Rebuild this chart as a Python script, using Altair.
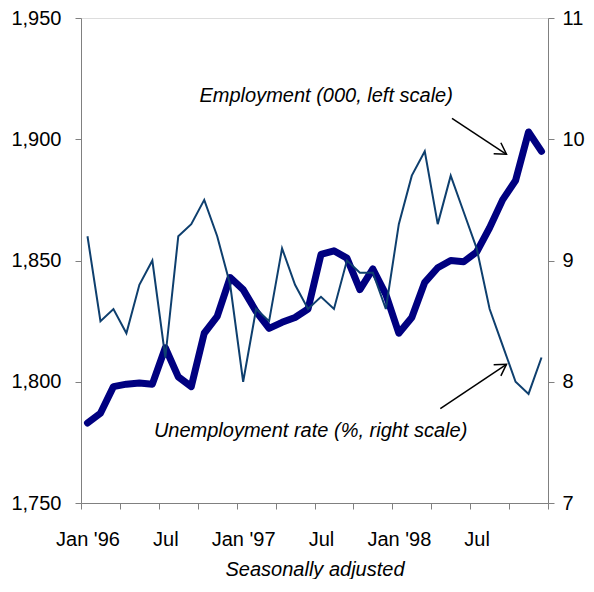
import altair as alt
import pandas as pd

# Monthly data Jan 1996 - Dec 1998 (index 0..35)
employment = [1783, 1787, 1798, 1799, 1799.5, 1799, 1814, 1802, 1798, 1820, 1827, 1843,
              1838, 1829, 1822, 1824.5, 1826.5, 1830, 1852.5, 1854, 1851, 1838, 1846.5, 1836,
              1820, 1826.5, 1841, 1847, 1850, 1849.5, 1853.5, 1863.5, 1875, 1883, 1903, 1895]
unemployment = [9.2, 8.5, 8.6, 8.4, 8.8, 9.0, 8.2, 9.2, 9.3, 9.5, 9.2, 8.8,
                8.0, 8.6, 8.5, 9.1, 8.8, 8.6, 8.7, 8.6, 9.0, 8.9, 8.9, 8.6,
                9.3, 9.7, 9.9, 9.3, 9.7, 9.4, 9.1, 8.6, 8.3, 8.0, 7.9, 8.2]
label_pos = [0, 6, 12, 18, 24, 30]
label_text = ["Jan '96", "Jul", "Jan '97", "Jul", "Jan '98", "Jul"]
tick_pos = [-0.5 + 3 * k for k in range(13)]
left_ticks = [1750, 1800, 1850, 1900, 1950]
right_ticks = [7, 8, 9, 10, 11]

# annotations (in x-index / left-scale units)
ann_text = ["Employment (000, left scale)", "Unemployment rate (%, right scale)"]
ann_x = [18.4, 17.2]
ann_y = [1918.0, 1779.5]
arrow_x = [28.1, 27.2]
arrow_y = [1908.6, 1788.9]
arrow_x2 = [32.3, 32.3]
arrow_y2 = [1893.8, 1807.2]
arrow_angle = [33, 327]

FONT = "Liberation Sans"
n = len(employment)
df = pd.DataFrame({"i": list(range(n)), "emp": employment, "unemp": unemployment})
df_txt = pd.DataFrame({"x": ann_x, "y": ann_y, "t": ann_text})
df_arr = pd.DataFrame({"x": arrow_x, "y": arrow_y, "x2": arrow_x2, "y2": arrow_y2, "a": arrow_angle})

expr = '""'
for p, t in reversed(list(zip(label_pos, label_text))):
    expr = f'datum.value == {p} ? "{t}" : ({expr})'

x_scale = alt.Scale(domain=[-0.5, n - 0.5], nice=False, zero=False)
x_axis = alt.Axis(values=tick_pos + label_pos, labelExpr=expr, title="Seasonally adjusted",
                  titleFontStyle="italic", titleFontWeight="normal", titleFontSize=20,
                  titleFont=FONT, titleColor="black", titlePadding=10,
                  labelFont=FONT, labelFontSize=20, labelColor="black", labelPadding=20,
                  labelOverlap=False, labelFlush=False, grid=False,
                  tickSize=6, tickColor="#808080", domainColor="#808080",
                  tickOpacity={"condition": {"test": "datum.value % 1 == 0", "value": 0}, "value": 1})

y_left_scale = alt.Scale(domain=[1750, 1950], nice=False, zero=False)
y_left_axis = alt.Axis(values=left_ticks, format=",.0f", title=None, grid=False,
                       labelFont=FONT, labelFontSize=20, labelColor="black", labelPadding=14,
                       tickSize=6, tickColor="#808080", domainColor="#808080")

emp_line = alt.Chart(df).mark_line(color="#000080", strokeWidth=7, strokeJoin="round", strokeCap="round").encode(
    x=alt.X("i:Q", scale=x_scale, axis=x_axis),
    y=alt.Y("emp:Q", scale=y_left_scale, axis=y_left_axis),
)

txt = alt.Chart(df_txt).mark_text(font=FONT, fontSize=20, fontStyle="italic", color="black",
                                  align="center", baseline="middle").encode(
    x=alt.X("x:Q", scale=x_scale, axis=x_axis),
    y=alt.Y("y:Q", scale=y_left_scale, axis=y_left_axis),
    text="t:N",
)

arr = alt.Chart(df_arr).mark_rule(color="black", strokeWidth=1.5).encode(
    x=alt.X("x:Q", scale=x_scale, axis=x_axis),
    y=alt.Y("y:Q", scale=y_left_scale, axis=y_left_axis),
    x2="x2:Q", y2="y2:Q",
)

heads = alt.Chart(df_arr).mark_point(shape="M-1,-0.6L0,0L-1,0.6", filled=False, color="black",
                                     strokeWidth=1.5, size=484, opacity=1).encode(
    x=alt.X("x2:Q", scale=x_scale, axis=x_axis),
    y=alt.Y("y2:Q", scale=y_left_scale, axis=y_left_axis),
    angle=alt.Angle("a:Q", scale=None),
)

left = alt.layer(emp_line, arr, heads, txt)

unemp_line = alt.Chart(df).mark_line(color="#0e3f6e", strokeWidth=2).encode(
    x=alt.X("i:Q", scale=x_scale, axis=x_axis),
    y=alt.Y("unemp:Q", scale=alt.Scale(domain=[7, 11], nice=False, zero=False),
            axis=alt.Axis(orient="right", values=right_ticks, title=None, grid=False,
                          labelFont=FONT, labelFontSize=20, labelColor="black", labelPadding=8,
                          tickSize=6, tickColor="#808080", domainColor="#808080")),
)

chart = alt.layer(left, unemp_line).resolve_scale(y="independent").properties(
    width=467, height=485,
    autosize=alt.AutoSizeParams(type="none"),
    padding={"left": 73, "top": 10, "right": 38, "bottom": 76},
).configure_view(stroke=None).configure(background="white")

chart.save("out.html", embed_options={"renderer": "svg", "actions": False})
